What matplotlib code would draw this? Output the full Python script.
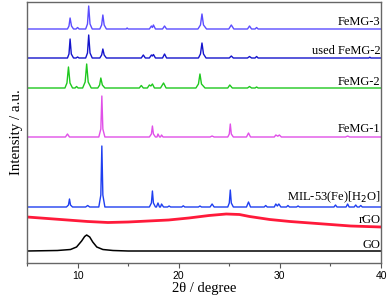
import numpy as np
import matplotlib
matplotlib.use('agg')
import matplotlib.pyplot as plt
from matplotlib.ticker import MultipleLocator

# XRD patterns: (2theta, intensity above own baseline)
femg3 = [(5, 0), (9.0, 0), (9.15, 3), (9.26, 11), (9.4, 3), (9.6, 0),
         (9.85, 0), (10.0, 1.5), (10.15, 0),
         (10.8, 0), (10.98, 5), (11.1, 23), (11.23, 5), (11.45, 0),
         (12.2, 0), (12.38, 4), (12.5, 14), (12.63, 4), (12.85, 0),
         (14.8, 0), (14.9, 1), (15.0, 0),
         (17.1, 0), (17.3, 3), (17.4, 1.5), (17.5, 4), (17.7, 0),
         (18.4, 0), (18.6, 3), (18.8, 0),
         (21.9, 0), (22.15, 4), (22.3, 15), (22.45, 4), (22.75, 0),
         (24.95, 0), (25.2, 4), (25.45, 0),
         (26.8, 0), (27.0, 3), (27.2, 0), (27.55, 0), (27.7, 1.5), (27.85, 0),
         (40, 0)]

used_femg2 = [(5, 0), (9.0, 0), (9.15, 4), (9.26, 19), (9.38, 4), (9.6, 0),
              (9.85, 0), (10.0, 1), (10.15, 0),
              (10.8, 0), (10.98, 5), (11.1, 23), (11.23, 5), (11.45, 0),
              (12.2, 0), (12.38, 3), (12.5, 9), (12.63, 3), (12.85, 0),
              (16.3, 0), (16.5, 3), (16.7, 0),
              (17.1, 0), (17.3, 3), (17.4, 2), (17.5, 3.5), (17.7, 0),
              (18.4, 0), (18.6, 4), (18.8, 0),
              (21.95, 0), (22.15, 4), (22.3, 15), (22.45, 4), (22.7, 0),
              (25.0, 0), (25.2, 2), (25.4, 0),
              (26.8, 0), (27.0, 1.5), (27.2, 0), (27.55, 0), (27.7, 1.5), (27.85, 0),
              (38.8, 0), (38.9, 0.8), (39.0, 0),
              (40, 0)]

femg2 = [(5, 0), (8.75, 0), (8.95, 5), (9.1, 21), (9.25, 5), (9.5, 0),
         (9.75, 0), (9.9, 1.5), (10.05, 0),
         (10.5, 0), (10.75, 6), (10.9, 24), (11.05, 6), (11.35, 0),
         (12.0, 0), (12.18, 3), (12.3, 10), (12.45, 3), (12.7, 0),
         (16.1, 0), (16.3, 2.5), (16.5, 0),
         (16.9, 0), (17.1, 3), (17.25, 2), (17.4, 4), (17.6, 0),
         (18.2, 0), (18.5, 5), (18.75, 0),
         (21.7, 0), (21.95, 4), (22.1, 14), (22.25, 4), (22.6, 0),
         (24.85, 0), (25.05, 3), (25.3, 0),
         (26.8, 0), (27.0, 1.5), (27.2, 0), (27.55, 0), (27.7, 1), (27.85, 0),
         (40, 0)]

femg1 = [(5, 0), (8.8, 0), (9.0, 3), (9.2, 0),
         (12.1, 0), (12.3, 8), (12.4, 41), (12.5, 8), (12.7, 0),
         (17.1, 0), (17.3, 3), (17.4, 11), (17.5, 3), (17.7, 0),
         (17.85, 0), (17.95, 3), (18.1, 0), (18.2, 0), (18.3, 2), (18.45, 0),
         (23.1, 0), (23.3, 1), (23.5, 0),
         (24.85, 0), (25.0, 3), (25.1, 13), (25.2, 3), (25.4, 0),
         (26.7, 0), (26.9, 4), (27.1, 0),
         (29.45, 0), (29.6, 2), (29.8, 0.8), (29.95, 2), (30.15, 0),
         (36.5, 0), (36.7, 1), (36.9, 0),
         (40, 0)]

mil53 = [(5, 0), (8.9, 0), (9.1, 2), (9.2, 8), (9.3, 2), (9.5, 0),
         (10.8, 0), (11.0, 1.5), (11.2, 0),
         (12.1, 0), (12.3, 12), (12.4, 61), (12.5, 12), (12.7, 0),
         (17.1, 0), (17.3, 4), (17.4, 16), (17.5, 4), (17.7, 0),
         (17.8, 0), (17.95, 4), (18.1, 0), (18.2, 0), (18.3, 3), (18.5, 0),
         (18.9, 0), (19.05, 1), (19.2, 0), (20.3, 0), (20.45, 1.2), (20.6, 0),
         (21.95, 0), (22.1, 1), (22.25, 0),
         (23.1, 0), (23.3, 3), (23.5, 0),
         (24.85, 0), (25.0, 4), (25.1, 17), (25.2, 4), (25.4, 0),
         (26.7, 0), (26.9, 5), (27.1, 0),
         (28.45, 0), (28.6, 1.5), (28.75, 0),
         (29.45, 0), (29.6, 3), (29.75, 1), (29.9, 3), (30.1, 0),
         (30.65, 0), (30.8, 1.5), (30.95, 0), (31.65, 0), (31.8, 1), (31.95, 0),
         (35.35, 0), (35.5, 2), (35.65, 0), (36.55, 0), (36.7, 3), (36.85, 0),
         (37.35, 0), (37.5, 2), (37.65, 0), (37.85, 0), (38.0, 1.5), (38.15, 0),
         (40, 0)]

rgo = [(5, 10), (7, 8.5), (9, 7), (11, 5.5), (13, 4.5), (15, 5), (17, 6),
       (19, 7), (21, 9), (23, 11.5), (24.7, 13), (26, 12.5), (27, 10.5),
       (29, 7.5), (31, 5.5), (33, 4), (35, 2.5), (37, 1), (40, 0)]

go = [(5, 0), (8, 0.5), (9.3, 1.5), (9.9, 4), (10.4, 10), (10.7, 14.5),
      (10.9, 16), (11.2, 14), (11.5, 9), (11.9, 4), (12.5, 1.5), (13.5, 0.5),
      (15, 0), (40, 0)]

names = ['FeMG-3', 'used FeMG-2', 'FeMG-2', 'FeMG-1',
         'MIL-53(Fe)[H$_2$O]', 'rGO', 'GO']
series = [femg3, used_femg2, femg2, femg1, mil53, rgo, go]

# layout / style
offsets = [234, 205, 175, 126, 56, 36, 12]
label_y = [4, 4, 3, 5, 6.5, 4, 3]
colors = ['#5a4cff', '#1414cc', '#1ec81e', '#e050e8', '#1f3ff0', '#ff1a3a', 'black']
widths = [1.0, 1.0, 1.0, 1.0, 1.0, 2.0, 1.1]

fig = plt.figure(figsize=(3.89, 3.01), dpi=100)
ax = fig.add_axes([27 / 389, 38 / 301, 354 / 389, 261 / 301])

for name, data, off, ly, c, lw in zip(names, series, offsets, label_y, colors, widths):
    x, y = zip(*data)
    ax.plot(x, np.array(y) + off, color=c, lw=lw)
    ax.text(39.95, off + data[-1][1] + ly, name, ha='right', va='baseline',
            family='Liberation Serif', fontsize=9)

ax.set_xlim(5, 40)
ax.set_ylim(0, 261)
ax.set_yticks([])
ax.xaxis.set_major_locator(MultipleLocator(10))
ax.xaxis.set_minor_locator(MultipleLocator(5))
ax.tick_params(axis='x', which='major', length=3.5, width=0.8, color='#555555',
               labelsize=7.5, pad=2)
ax.tick_params(axis='x', which='minor', length=2, width=0.8, color='#555555')
for lab in ax.get_xticklabels():
    lab.set_family('Liberation Sans')
for sp in ax.spines.values():
    sp.set_color('#666666')
    sp.set_linewidth(1.0)

ax.set_xlabel('2θ / degree', family='Liberation Serif', fontsize=10.5, labelpad=1)
ax.set_ylabel('Intensity / a.u.', family='Liberation Serif', fontsize=10.8, labelpad=3)

fig.savefig('out.png', dpi=100)
